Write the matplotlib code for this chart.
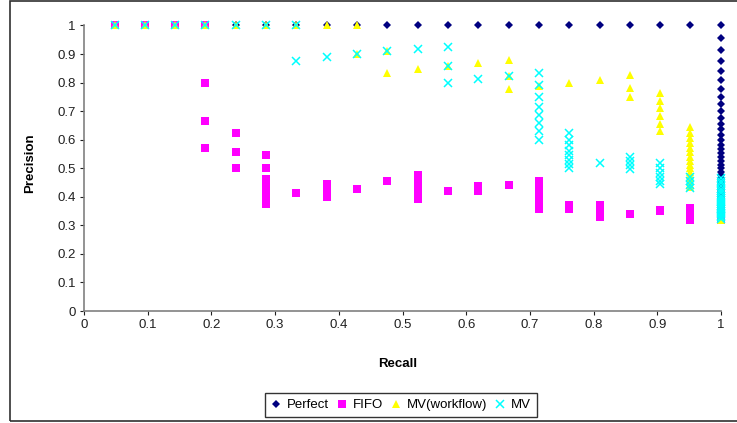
import matplotlib
matplotlib.use("Agg")
import matplotlib.pyplot as plt
from matplotlib.patches import Rectangle

plt.rcParams["font.family"] = ["Liberation Sans", "DejaVu Sans"]

# recall levels (k / 21)
recall_levels = [0.048, 0.095, 0.143, 0.190, 0.238, 0.286, 0.333, 0.381, 0.429, 0.476,
                 0.524, 0.571, 0.619, 0.667, 0.714, 0.762, 0.810, 0.857, 0.905, 0.952, 1.0]

# precision values at each recall level, one list per level
perfect_prec = [[1.0]] * 20 + [[
    1.0, 0.955, 0.913, 0.875, 0.84, 0.808, 0.778, 0.75, 0.724, 0.7, 0.677, 0.656,
    0.636, 0.618, 0.6, 0.583, 0.568, 0.553, 0.538, 0.525, 0.512, 0.5, 0.488, 0.477,
    0.467, 0.457, 0.447, 0.438, 0.429, 0.42, 0.412, 0.404, 0.396, 0.389, 0.382,
    0.375, 0.368, 0.362, 0.356, 0.35, 0.344, 0.339, 0.333, 0.328, 0.323]]

fifo_prec = [
    [1.0], [1.0], [1.0],
    [1.0, 0.8, 0.667, 0.571],
    [0.625, 0.556, 0.5],
    [0.545, 0.5, 0.462, 0.444, 0.429, 0.4, 0.375],
    [0.412],
    [0.444, 0.421, 0.4],
    [0.429],
    [0.455],
    [0.478, 0.458, 0.44, 0.423, 0.407, 0.393],
    [0.419],
    [0.438, 0.42],
    [0.441],
    [0.455, 0.441, 0.429, 0.417, 0.405, 0.395, 0.385, 0.375, 0.366, 0.357],
    [0.372, 0.364, 0.356],
    [0.37, 0.354, 0.34, 0.33],
    [0.341],
    [0.355, 0.35],
    [0.36, 0.345, 0.333, 0.32],
    [0.35, 0.33, 0.32],
]

mvwf_prec = [
    [1.0], [1.0], [1.0], [1.0], [1.0], [1.0], [1.0], [1.0],
    [1.0, 0.9],
    [0.91, 0.833],
    [0.846],
    [0.857],
    [0.87],
    [0.88, 0.824, 0.778],
    [0.789],
    [0.8],
    [0.81],
    [0.826, 0.781, 0.75],
    [0.762, 0.737, 0.71, 0.684, 0.656, 0.632],
    [0.645, 0.625, 0.606, 0.588, 0.571, 0.556, 0.541, 0.526, 0.513, 0.5,
     0.488, 0.476, 0.465, 0.455, 0.444, 0.435],
    [0.33, 0.32],
]

mv_prec = [
    [1.0], [1.0], [1.0], [1.0], [1.0], [1.0],
    [1.0, 0.875],
    [0.889],
    [0.9],
    [0.909],
    [0.917],
    [0.923, 0.857, 0.8],
    [0.813],
    [0.824],
    [0.833, 0.792, 0.75, 0.714, 0.688, 0.659, 0.63, 0.6],
    [0.625, 0.6, 0.58, 0.56, 0.545, 0.53, 0.515, 0.5],
    [0.518],
    [0.538, 0.524, 0.51, 0.496],
    [0.52, 0.5, 0.485, 0.47, 0.455, 0.445],
    [0.47, 0.455, 0.44, 0.43],
    [0.467, 0.457, 0.447, 0.438, 0.429, 0.42, 0.412, 0.404, 0.396, 0.389, 0.382,
     0.375, 0.368, 0.362, 0.356, 0.35, 0.344, 0.339, 0.333, 0.328, 0.323],
]

series_names = ["Perfect", "FIFO", "MV(workflow)", "MV"]
series_prec = [perfect_prec, fifo_prec, mvwf_prec, mv_prec]
colors = ["#000080", "#FF00FF", "#FFFF00", "#00FFFF"]
markers = ["D", "s", "^", "x"]
sizes = [4.2, 5.6, 6.2, 5.8]


def flatten(prec_lists):
    xs, ys = [], []
    for r, ps in zip(recall_levels, prec_lists):
        for p in ps:
            xs.append(r)
            ys.append(p)
    return xs, ys


fig = plt.figure(figsize=(7.37, 4.23), dpi=100)
ax = fig.add_axes([84 / 737, 1 - 311 / 423, 637 / 737, 285.5 / 423])

for name, prec, c, m, s in zip(series_names, series_prec, colors, markers, sizes):
    x, y = flatten(prec)
    if m == "x":
        ax.plot(x, y, linestyle="none", marker=m, color=c, markersize=s,
                markeredgewidth=1.1, label=name, clip_on=False)
    else:
        ax.plot(x, y, linestyle="none", marker=m, color=c, markersize=s,
                markeredgewidth=0, label=name, clip_on=False)

ax.set_xlim(0, 1)
ax.set_ylim(0, 1)
ax.set_xticks([i / 10 for i in range(11)])
ax.set_yticks([i / 10 for i in range(11)])
ax.set_xticklabels(["0", "0.1", "0.2", "0.3", "0.4", "0.5", "0.6", "0.7", "0.8", "0.9", "1"])
ax.set_yticklabels(["0", "0.1", "0.2", "0.3", "0.4", "0.5", "0.6", "0.7", "0.8", "0.9", "1"])
ax.tick_params(direction="out", length=3, width=0.8, colors="#202020",
               labelsize=9.5, pad=3)

for side in ["top", "right"]:
    ax.spines[side].set_visible(False)
for side in ["left", "bottom"]:
    ax.spines[side].set_color("#808080")
    ax.spines[side].set_linewidth(1.2)

ax.set_xlabel("Recall", fontsize=9.5, fontweight="bold")
ax.set_ylabel("Precision", fontsize=9.5, fontweight="bold")
ax.xaxis.set_label_coords(0.493, -0.163)
ax.yaxis.set_label_coords(-0.075, 0.516)

leg = fig.legend(loc="center", bbox_to_anchor=(401 / 737, 1 - 405 / 423), ncol=4,
                 fontsize=9.5, frameon=True, fancybox=False, handlelength=0.8,
                 handletextpad=0.4, columnspacing=0.6, borderpad=0.45)
leg.get_frame().set_edgecolor("black")
leg.get_frame().set_linewidth(1.0)

# outer chart frame
fig.patches.append(Rectangle((10 / 737, 2 / 423), 1.2, 419.5 / 423, transform=fig.transFigure,
                             fill=False, edgecolor="#303030", linewidth=1.2))

fig.savefig("out.png", dpi=100)
